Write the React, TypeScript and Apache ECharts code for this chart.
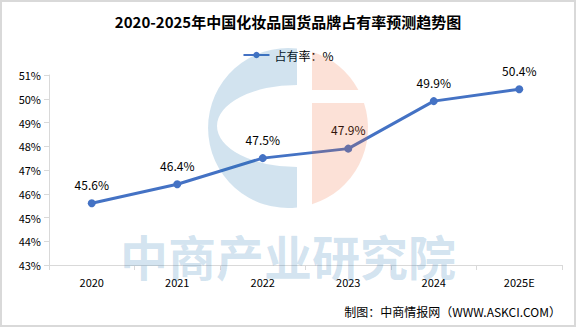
import React, { useEffect, useRef } from "react";
import * as echarts from "echarts";

const categories = ["2020", "2021", "2022", "2023", "2024", "2025E"];
const shareValues = [45.6, 46.4, 47.5, 47.9, 49.9, 50.4];
const seriesName = "占有率：%";
const titleText = "2020-2025年中国化妆品国货品牌占有率预测趋势图";
const sourceText = "制图：中商情报网（WWW.ASKCI.COM）";
const watermarkText = "中商产业研究院";

const FONT = "'Noto Sans CJK SC', 'Noto Sans', sans-serif";

// watermark logo shapes (circle r=80 centered at 288,128)
const blueD =
  "M297,48.5 A80,80 0 1,0 297,207.5 L297,167 A80,41 0 0,1 297,85 Z";
const orangeTopD = "M312,51.7 A80,80 0 0,1 358.4,90 L312,90 Z";
const orangeBotD = "M312,103 L364,103 A80,80 0 0,1 312,204.3 Z";

let registered = false;
function registerShapes() {
  if (registered) return;
  registered = true;
  echarts.graphic.registerShape("wmBlue", echarts.graphic.extendPath(blueD, {}));
  echarts.graphic.registerShape("wmOrangeTop", echarts.graphic.extendPath(orangeTopD, {}));
  echarts.graphic.registerShape("wmOrangeBot", echarts.graphic.extendPath(orangeBotD, {}));
}

export default function App() {
  const ref = useRef<HTMLDivElement>(null);
  useEffect(() => {
    document.body.style.margin = "0";
    registerShapes();
    const chart = echarts.init(ref.current!, undefined, { renderer: "svg" });
    chart.setOption({
      animation: false,
      backgroundColor: "#ffffff",
      textStyle: { fontFamily: FONT },
      title: {
        text: titleText,
        left: "center",
        top: 9,
        textStyle: { fontSize: 15, fontWeight: "bold", color: "#000", fontFamily: FONT },
      },
      legend: {
        data: [seriesName],
        left: "center",
        top: 44,
        itemWidth: 26,
        itemHeight: 8,
        itemGap: 4,
        textStyle: { fontSize: 12, color: "#000", fontFamily: FONT },
      },
      grid: { left: 49, right: 14, top: 75, bottom: 62 },
      xAxis: {
        type: "category",
        data: categories,
        boundaryGap: true,
        axisLine: { lineStyle: { color: "#d9d9d9", width: 1 } },
        axisTick: { show: true, length: 5, lineStyle: { color: "#d9d9d9" } },
        axisLabel: { fontSize: 11, color: "#000", margin: 11, fontFamily: FONT },
      },
      yAxis: {
        type: "value",
        min: 43,
        max: 51,
        interval: 1,
        axisLine: { show: true, lineStyle: { color: "#d9d9d9", width: 1 } },
        axisTick: { show: true, length: 5, lineStyle: { color: "#d9d9d9" } },
        splitLine: { show: false },
        axisLabel: { formatter: "{value}%", fontSize: 11, color: "#000", margin: 8, fontFamily: FONT },
      },
      series: [
        {
          name: seriesName,
          type: "line",
          data: shareValues,
          symbol: "circle",
          symbolSize: 8,
          lineStyle: { color: "#4472c4", width: 3 },
          itemStyle: { color: "#4472c4" },
          label: {
            show: true,
            position: "top",
            distance: 9,
            formatter: "{c}%",
            fontSize: 12,
            color: "#000",
            fontFamily: FONT,
          },
          z: 2,
        },
      ],
      graphic: [
        {
          type: "rect",
          z: 200,
          shape: { x: 1, y: 1, width: 574, height: 325 },
          style: { fill: "none", stroke: "#d9d9d9", lineWidth: 2 },
          silent: true,
        },
        {
          type: "wmBlue",
          x: 0,
          y: 0,
          z: 100,
          silent: true,
          style: { fill: "rgba(30,115,175,0.2)" },
        },
        {
          type: "wmOrangeTop",
          x: 0,
          y: 0,
          z: 100,
          silent: true,
          style: { fill: "rgba(238,106,53,0.2)" },
        },
        {
          type: "wmOrangeBot",
          x: 0,
          y: 0,
          z: 100,
          silent: true,
          style: { fill: "rgba(238,106,53,0.2)" },
        },
        {
          type: "text",
          z: 100,
          silent: true,
          x: 288,
          y: 255,
          style: {
            text: watermarkText,
            fill: "rgba(30,115,175,0.2)",
            font: `bold 48px ${FONT}`,
            lineHeight: 34,
            align: "center",
            verticalAlign: "middle",
          },
        },
        {
          type: "text",
          z: 100,
          silent: true,
          x: 561,
          y: 311,
          style: {
            text: sourceText,
            fill: "#000",
            font: `12px ${FONT}`,
            align: "right",
            verticalAlign: "middle",
          },
        },
      ],
    });
    return () => chart.dispose();
  }, []);
  return (
    <div
      ref={ref}
      style={{ position: "fixed", left: 0, top: 0, width: 576, height: 327 }}
    />
  );
}
